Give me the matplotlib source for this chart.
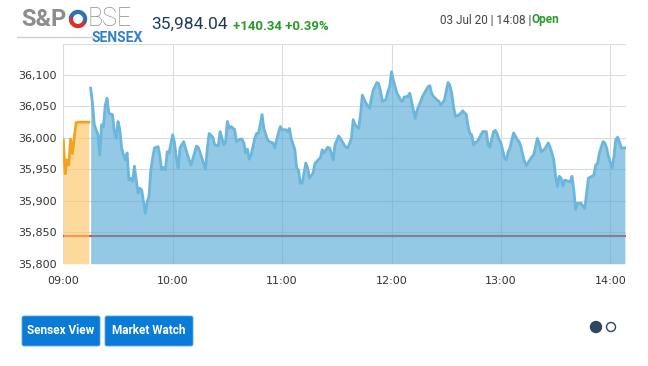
import numpy as np
import matplotlib.pyplot as plt
from matplotlib.patches import FancyBboxPatch, Circle, Wedge

# ---------- data ----------
prev_close = 35843.70
last_value = "35,984.04"
change_text = "+140.34 +0.39%"
stamp_text = "03 Jul 20 | 14:08 | "
status_text = "Open"

# pre-open session (minutes after 09:00)
pre_min = [0, 1, 2, 3, 4, 5, 6, 7, 8, 10, 12, 14]
pre_val = [35997, 35943, 35965, 35957, 35998, 35975, 36000, 36024, 36025, 36025, 36025, 36025]

# normal session (minutes after 09:00)
blue_min = [15, 16, 17, 19, 20, 21, 22, 23, 24, 25, 27, 28, 29, 30, 31, 32, 33, 34, 35, 36,
            37, 38, 39, 40, 41, 42, 43, 45, 46, 47, 48, 49, 50, 52, 53, 54, 55, 56, 57, 58,
            60, 61, 62, 63, 64, 66, 67, 69, 70, 72, 73, 74, 76, 78, 79, 80, 82, 83, 85, 86,
            88, 89, 90, 91, 92, 94, 95, 97, 98, 99, 100, 101, 102, 103, 105, 106, 107, 108, 109, 110,
            112, 113, 115, 116, 117, 119, 120, 122, 123, 124, 125, 127, 128, 129, 130, 131, 133, 134, 135, 137,
            138, 139, 140, 141, 142, 143, 145, 146, 147, 148, 149, 151, 152, 154, 155, 156, 158, 159, 160, 162,
            163, 164, 166, 168, 169, 170, 172, 173, 174, 175, 177, 178, 179, 180, 181, 183, 184, 185, 186, 187,
            189, 190, 191, 192, 193, 194, 196, 197, 198, 200, 201, 202, 203, 205, 206, 207, 209, 210, 211, 212,
            213, 214, 215, 216, 218, 219, 220, 221, 222, 223, 224, 225, 226, 227, 228, 230, 231, 232, 233, 234,
            235, 236, 237, 238, 239, 240, 242, 243, 244, 245, 246, 247, 249, 250, 251, 252, 253, 254, 255, 257,
            258, 260, 261, 262, 264, 265, 266, 267, 268, 269, 270, 271, 272, 273, 274, 275, 277, 278, 279, 280,
            281, 282, 284, 285, 286, 287, 288, 290, 291, 292, 293, 294, 296, 297, 298, 299, 301, 302, 303, 304,
            305, 306, 308]
blue_val = [36079, 36055, 36021, 36005, 35973, 36021, 36018, 36052, 36063, 36039, 36037, 36010, 35999, 36026, 36013, 35984, 35973, 35965, 35976, 35933,
            35936, 35931, 35955, 35933, 35912, 35920, 35917, 35880, 35899, 35907, 35949, 35968, 35984, 35986, 35970, 35949, 35953, 35949, 35978, 35976,
            36005, 35992, 35968, 35952, 35984, 35994, 35984, 35965, 35957, 35976, 35987, 35985, 35968, 35950, 35984, 36007, 36001, 35989, 35987, 36010,
            35989, 35994, 36026, 36015, 36018, 36013, 35994, 35998, 35998, 35992, 35976, 35982, 35966, 35973, 35999, 36007, 36007, 36021, 36037, 36015,
            35997, 35994, 35992, 35984, 35997, 36018, 36013, 36013, 36010, 36015, 35999, 35981, 35952, 35949, 35928, 35928, 35960, 35952, 35936, 35944,
            35960, 35962, 35966, 35968, 35981, 35976, 35985, 35984, 35976, 35965, 35989, 36003, 35999, 35989, 35985, 35984, 35999, 36029, 36021, 36015,
            36037, 36068, 36055, 36047, 36063, 36076, 36088, 36086, 36074, 36058, 36061, 36074, 36081, 36105, 36092, 36071, 36066, 36060, 36058, 36065,
            36066, 36071, 36058, 36044, 36031, 36044, 36058, 36066, 36071, 36081, 36083, 36071, 36066, 36060, 36058, 36052, 36060, 36074, 36088, 36084,
            36071, 36050, 36034, 36035, 36039, 36043, 36040, 36037, 36018, 36007, 36005, 35989, 35993, 35994, 35999, 36010, 36010, 36010, 35989, 35985,
            35999, 36010, 36012, 36006, 35997, 35992, 35968, 35965, 35978, 35984, 35997, 36008, 35997, 35994, 35986, 35973, 35962, 35956, 35961, 35970,
            35973, 35999, 35992, 35978, 35982, 35987, 35992, 35985, 35976, 35965, 35939, 35923, 35939, 35936, 35923, 35933, 35931, 35930, 35939, 35917,
            35886, 35896, 35896, 35891, 35888, 35912, 35936, 35939, 35941, 35957, 35959, 35976, 35994, 35992, 35984, 35970, 35952, 35970, 35997, 36001,
            35994, 35984, 35984.04]

hour_ticks = [0, 60, 120, 180, 240, 300]
hour_labels = ["09:00", "10:00", "11:00", "12:00", "13:00", "14:00"]
y_ticks = [35800, 35850, 35900, 35950, 36000, 36050, 36100, 36150]
y_labels = ["35,800", "35,850", "35,900", "35,950", "36,000", "36,050", "36,100", ""]
y_bottom = 35800

# ---------- figure ----------
W, H = 648, 366
fig = plt.figure(figsize=(W / 100, H / 100), dpi=100)
ax = fig.add_axes([63.3 / W, 1 - 263.7 / H, 562.5 / W, 220.2 / H])

# previous close line (under the fills)
ax.axhline(prev_close, color="#e2452f", lw=1.6, zorder=1)

ax.fill_between(pre_min, pre_val, y_bottom, color="#fcc768", alpha=0.65, lw=0, zorder=2)
ax.plot(pre_min, pre_val, color="#f6a31c", lw=2.0, zorder=3, solid_joinstyle="round")

ax.fill_between(blue_min, blue_val, y_bottom, color="#4ba6d4", alpha=0.6, lw=0, zorder=2)
ax.plot(blue_min, blue_val, color="#6ab6dc", lw=2.0, zorder=3, solid_joinstyle="round")

ax.set_xlim(0, 308.5)
ax.set_ylim(35800, 36150)
ax.set_xticks(hour_ticks)
ax.set_xticklabels(hour_labels)
ax.set_yticks(y_ticks)
ax.set_yticklabels(y_labels)
ax.grid(True, color="#dcdcdc", lw=0.8, zorder=0)
ax.set_axisbelow(True)
for s in ax.spines.values():
    s.set_visible(False)
ax.tick_params(axis="both", length=0, labelsize=8, colors="#333333")
ax.tick_params(axis="y", pad=5)
ax.tick_params(axis="x", pad=9)

# ---------- header and footer (pixel overlay) ----------
ov = fig.add_axes([0, 0, 1, 1], zorder=-1)
ov.set_xlim(0, W)
ov.set_ylim(H, 0)
ov.axis("off")

ov.plot([17, 92], [37, 37], color="#d0d0d0", lw=1)
ov.text(21, 19, "S&P", fontsize=17, fontweight="bold", family="Roboto", color="#8d8d8d", va="center", ha="left")
ov.add_patch(Wedge((78, 19), 8.5, 20, 200, color="#d9312b"))
ov.add_patch(Wedge((78, 19), 8.5, 200, 380, color="#2e6fb5"))
ov.add_patch(Circle((78, 19), 4.2, color="white"))
ov.text(88, 19, "BSE", fontsize=18, fontweight="light", family="Roboto", color="#8d8d8d", va="center", ha="left")
ov.text(91, 37.5, "SENSEX", fontsize=10, fontweight="bold", family="Roboto", color="#2f80c4", va="center", ha="left")

ov.text(151, 24.5, last_value, fontsize=12.5, family="Roboto", color="#1c3b5a", va="center", ha="left")
ov.text(233, 26, change_text, fontsize=9.5, family="Roboto", fontweight="bold", color="#2a9a2a", va="center", ha="left")
ov.text(440, 20, stamp_text, fontsize=8.5, family="Roboto", color="#444444", va="center", ha="left")
ov.text(532, 20, status_text, fontsize=8.5, family="Roboto", fontweight="bold", color="#2a9a2a", va="center", ha="left")

buttons = [("Sensex View", 22, 100), ("Market Watch", 105, 193)]
for label, x0, x1 in buttons:
    ov.add_patch(FancyBboxPatch((x0, 316), x1 - x0, 30, boxstyle="round,pad=0,rounding_size=2",
                                fc="#0b7bd8", ec="#5aa5e6", lw=0.6))
    ov.text((x0 + x1) / 2, 331, label, fontsize=8.5, family="Roboto", fontweight="bold",
            color="white", ha="center", va="center")

ov.add_patch(Circle((596, 327), 5.5, fc="#2c4760", ec="#2c4760"))
ov.add_patch(Circle((611, 327), 4.5, fc="white", ec="#2c4760", lw=1))

fig.savefig("out.png", dpi=100)
